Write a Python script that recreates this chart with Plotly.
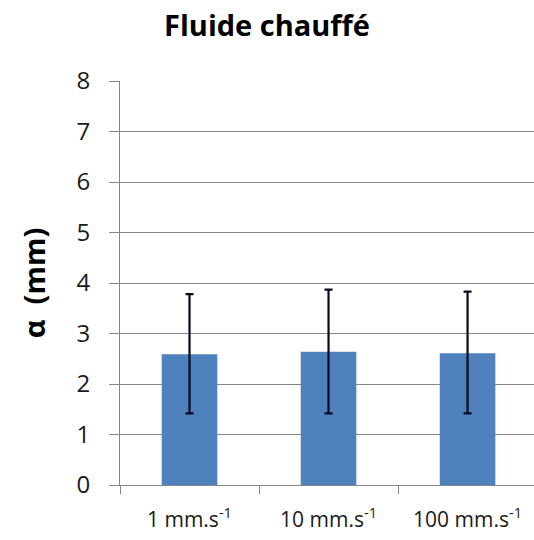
import plotly.graph_objects as go

categories = ["1 mm.s<sup>-1</sup>", "10 mm.s<sup>-1</sup>", "100 mm.s<sup>-1</sup>"]
alpha_mean = [2.59, 2.64, 2.61]
err_plus = [1.19, 1.23, 1.22]
err_minus = [1.17, 1.22, 1.19]

fig = go.Figure()
fig.add_trace(
    go.Bar(
        x=categories,
        y=alpha_mean,
        marker=dict(color="#4F81BD", line=dict(width=0)),
        error_y=dict(
            type="data",
            symmetric=False,
            array=err_plus,
            arrayminus=err_minus,
            color="#0a0a1e",
            thickness=2.2,
            width=4,
        ),
    )
)

fig.update_layout(
    width=534,
    height=540,
    paper_bgcolor="white",
    plot_bgcolor="white",
    showlegend=False,
    bargap=0.6,
    margin=dict(l=120, r=0, t=81, b=55),
    font=dict(family="Open Sans", color="#1a1a1a"),
    title=dict(
        text="<b>Fluide chauffé</b>",
        x=0.5,
        xref="container",
        xanchor="center",
        y=0.953,
        yanchor="middle",
        font=dict(size=29, family="Open Sans", color="black"),
    ),
    xaxis=dict(
        range=[-0.5, 2.478],
        automargin=False,
        showline=True,
        linecolor="#868686",
        linewidth=1,
        ticks="outside",
        tickson="boundaries",
        ticklen=8,
        tickcolor="#868686",
        ticklabelstandoff=16,
        tickfont=dict(size=21, family="Open Sans", color="#1a1a1a"),
        showgrid=False,
    ),
    yaxis=dict(
        range=[0, 8],
        automargin=False,
        dtick=1,
        showline=True,
        linecolor="#868686",
        linewidth=1,
        ticks="outside",
        ticklen=10,
        tickcolor="#868686",
        showgrid=True,
        gridcolor="#868686",
        gridwidth=1,
        zeroline=False,
        ticklabelstandoff=14,
        tickfont=dict(size=24, family="Open Sans", color="#1a1a1a"),
        title=dict(
            text="<b>α  (mm)</b>",
            standoff=22,
            font=dict(size=29, family="Open Sans", color="black"),
        ),
    ),
)

# la page par défaut a une marge de 8px sur le body
fig.write_html(
    "out.html",
    config={"displayModeBar": False},
    post_script="document.body.style.margin='0';document.body.style.overflow='hidden';",
)
